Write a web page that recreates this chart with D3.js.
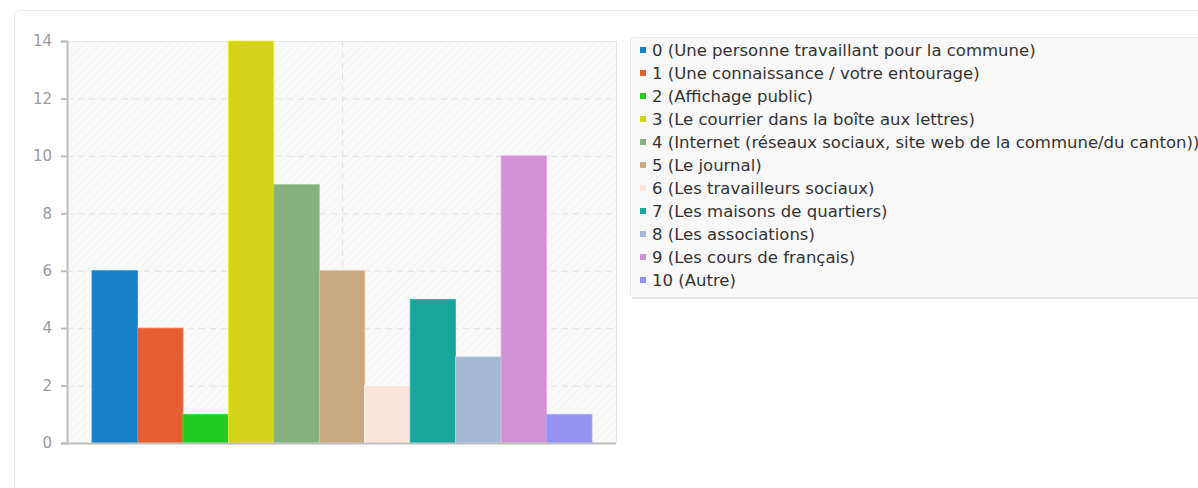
<!DOCTYPE html>
<html>
<head>
<meta charset="utf-8">
<script src="https://cdn.jsdelivr.net/npm/d3@7"></script>
<style>
  html, body { margin: 0; padding: 0; background: #ffffff; }
  svg { display: block; font-family: "DejaVu Sans", sans-serif; }
</style>
</head>
<body>
<svg id="chart" width="1198" height="488"></svg>
<script>
const categories = ["0", "1", "2", "3", "4", "5", "6", "7", "8", "9", "10"];
const labels = [
  "0 (Une personne travaillant pour la commune)",
  "1 (Une connaissance / votre entourage)",
  "2 (Affichage public)",
  "3 (Le courrier dans la boîte aux lettres)",
  "4 (Internet (réseaux sociaux, site web de la commune/du canton))",
  "5 (Le journal)",
  "6 (Les travailleurs sociaux)",
  "7 (Les maisons de quartiers)",
  "8 (Les associations)",
  "9 (Les cours de français)",
  "10 (Autre)"
];
const values = [6, 4, 1, 14, 9, 6, 2, 5, 3, 10, 1];
const colors = ["#1580c8", "#e55f33", "#22cc22", "#d3d31c", "#85b07f", "#c8a880",
                "#fbe4da", "#18a59b", "#a5b8d2", "#d192d3", "#9692f0"];
const yTicks = [0, 2, 4, 6, 8, 10, 12, 14];

const svg = d3.select("#chart");

// card
svg.append("rect").attr("x", 14.5).attr("y", 10.5).attr("width", 1200).attr("height", 500)
  .attr("rx", 5).attr("fill", "#ffffff").attr("stroke", "#ececec");

const plot = { left: 67, right: 616, top: 41, bottom: 443 };

const defs = svg.append("defs");
const pat = defs.append("pattern").attr("id", "hatch").attr("patternUnits", "userSpaceOnUse")
  .attr("width", 6).attr("height", 6).attr("patternTransform", "rotate(45)");
pat.append("rect").attr("width", 6).attr("height", 6).attr("fill", "#f9f9f9");
pat.append("line").attr("x1", 0).attr("y1", 0).attr("x2", 0).attr("y2", 6)
  .attr("stroke", "#f2f2f2").attr("stroke-width", 2);

svg.append("rect").attr("x", plot.left).attr("y", plot.top)
  .attr("width", plot.right - plot.left).attr("height", plot.bottom - plot.top)
  .attr("fill", "url(#hatch)");

const y = d3.scaleLinear().domain([0, 14]).range([plot.bottom, plot.top]);
const x = d3.scaleBand().domain(categories).range([plot.left + 25, plot.right - 24]);

// grid
svg.append("g").selectAll("line").data(yTicks.filter(d => d > 0)).join("line")
  .attr("x1", plot.left).attr("x2", plot.right)
  .attr("y1", d => y(d) + 0.5).attr("y2", d => y(d) + 0.5)
  .attr("stroke", "#e2e2e2").attr("stroke-dasharray", "6,5");
const midX = Math.round((plot.left + plot.right) / 2) + 0.5;
svg.append("line").attr("x1", midX).attr("x2", midX).attr("y1", plot.top).attr("y2", plot.bottom)
  .attr("stroke", "#e2e2e2").attr("stroke-dasharray", "6,5");
// right & top light borders
svg.append("line").attr("x1", plot.right + 0.5).attr("x2", plot.right + 0.5).attr("y1", plot.top).attr("y2", plot.bottom)
  .attr("stroke", "#e6e6e6");
svg.append("line").attr("x1", plot.left).attr("x2", plot.right).attr("y1", plot.top + 0.5).attr("y2", plot.top + 0.5)
  .attr("stroke", "#e6e6e6");

// bars
svg.append("g").selectAll("rect").data(values).join("rect")
  .attr("x", (d, i) => x(categories[i]))
  .attr("y", d => y(d))
  .attr("width", x.bandwidth())
  .attr("height", d => y(0) - y(d))
  .attr("fill", (d, i) => colors[i])
  .attr("stroke", (d, i) => d3.color(colors[i]).brighter(0.4))
  .attr("stroke-width", 0.8);

// y axis
const yAxis = d3.axisLeft(y).tickValues(yTicks).tickSize(6).tickPadding(9);
const ga = svg.append("g").attr("transform", `translate(${plot.left},0)`).call(yAxis);
ga.select(".domain").attr("stroke", "#bdbdbd").attr("stroke-width", 2);
ga.selectAll(".tick line").attr("stroke", "#bdbdbd").attr("stroke-width", 2);
ga.selectAll(".tick text").attr("fill", "#9a9a9a").attr("font-size", 15).attr("font-family", "DejaVu Sans, sans-serif");
// x axis base line
svg.append("line").attr("x1", plot.left).attr("x2", plot.right).attr("y1", plot.bottom + 0.5).attr("y2", plot.bottom + 0.5)
  .attr("stroke", "#bdbdbd").attr("stroke-width", 2);

// legend
const lg = svg.append("g");
lg.append("rect").attr("x", 630.5).attr("y", 37.5).attr("width", 600).attr("height", 260)
  .attr("rx", 4).attr("fill", "#f8f8f8").attr("stroke", "#e8e8e8");
lg.append("line").attr("x1", 632).attr("x2", 1198).attr("y1", 298.5).attr("y2", 298.5).attr("stroke", "#e0e0e0");
const item = lg.selectAll("g.item").data(labels).join("g").attr("class", "item")
  .attr("transform", (d, i) => `translate(640, ${50 + i * 23})`);
item.append("rect").attr("x", 0).attr("y", -3).attr("width", 6).attr("height", 6)
  .attr("fill", (d, i) => colors[i]);
item.append("text").attr("x", 12).attr("y", 0).attr("dy", "0.35em")
  .attr("font-size", 16.5).attr("fill", "#333333").text(d => d);
</script>
</body>
</html>
